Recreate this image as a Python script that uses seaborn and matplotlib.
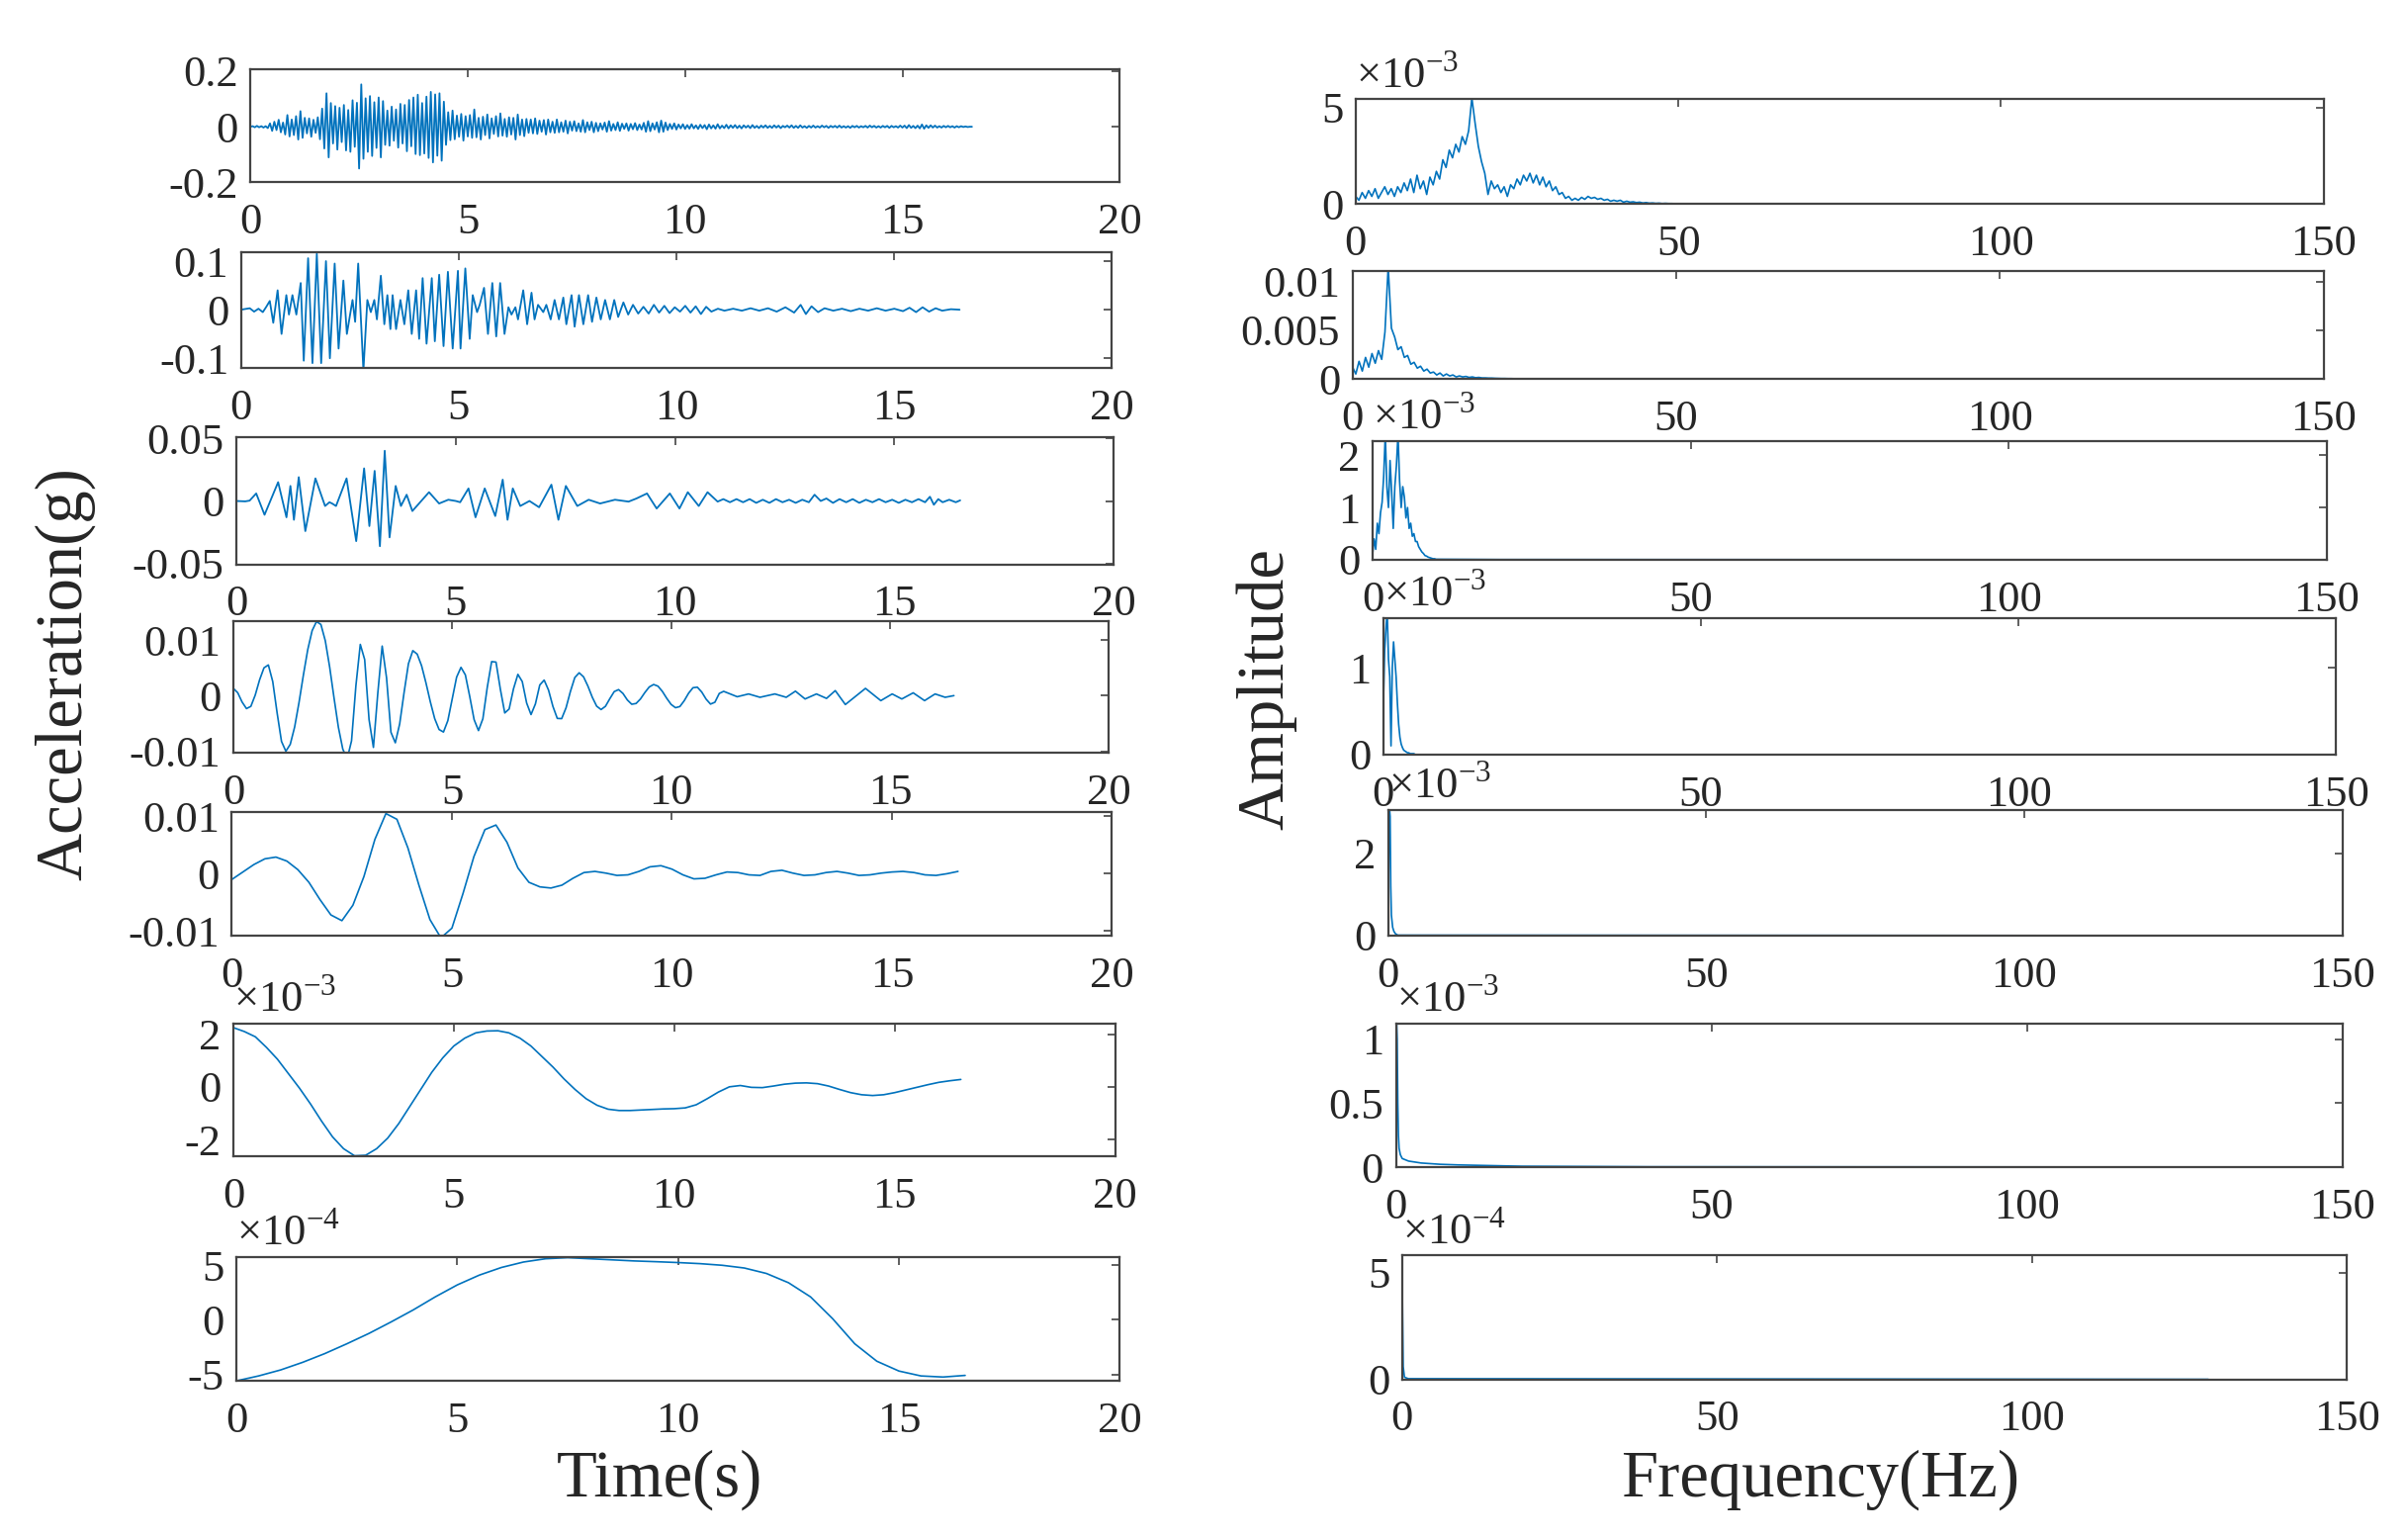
import numpy as np
import pandas as pd
import matplotlib
matplotlib.use("Agg")
import matplotlib.pyplot as plt
import seaborn as sns

# ---------------- left column: time histories ----------------
# raw record, one value every 0.05 s, in units of 0.01 g
raw_dt = 0.05
raw_acc = [
    0, 0.2, -0.2, 0.3, -0.2, 0.2, -0.3, 0.2, -0.5, 1.2, -1.5, 1.8, -1.2, 2.5, -2.0, 1.5, -2.8, 4.2, -3.5, 2.6,
    -3.0, 3.8, -4.6, 5.6, -4.0, 3.2, -2.4, 3.0, -3.6, 2.5, -2.2, 3.4, -4.5, 6.5, -7.8, 12.0, -11.0, 8.5, -6.0, 7.4,
    -8.2, 6.8, -5.5, 7.8, -8.5, 6.0, -9.0, 9.5, -7.2, 8.6, -15.0, 15.2, -11.5, 10.2, -9.0, 11.0, -10.5, 8.8, -7.6, 10.5,
    -11.0, 9.2, -6.5, 5.8, -6.8, 7.2, -5.0, 6.2, -7.5, 8.2, -6.0, 7.8, -8.8, 9.6, -7.0, 10.5, -9.8, 11.5, -10.2, 8.5,
    -9.6, 10.8, -11.2, 12.5, -12.8, 11.6, -10.4, 12.0, -12.2, 9.0, -6.5, 5.2, -4.8, 5.8, -4.5, 4.0, -3.6, 4.6, -5.0, 3.8,
    -3.5, 4.2, -4.0, 6.2, -3.8, 3.2, -4.6, 3.6, -3.0, 4.4, -4.2, 3.0, -2.6, 3.8, -3.5, 4.8, -3.2, 2.8, -3.6, 3.4,
    -2.8, 3.2, -4.6, 4.4, -3.0, 2.6, -3.4, 2.8, -2.2, 2.6, -2.4, 3.0, -2.6, 2.2, -1.8, 2.4, -2.8, 2.6, -2.0, 1.8,
    -2.2, 2.6, -2.0, 1.6, -1.8, 2.2, -2.4, 1.8, -1.4, 2.0, -1.6, 1.2, -1.8, 2.4, -2.0, 1.6, -1.2, 1.8, -2.0, 1.4,
    -1.6, 1.2, -1.0, 1.5, -1.8, 2.0, -1.4, 1.0, -1.2, 1.6, -1.5, 1.1, -0.8, 1.2, -1.4, 1.0, -0.9, 1.3, -1.2, 0.8,
    -1.0, 1.4, -1.8, 2.0, -1.6, 1.2, -1.0, 1.6, -2.0, 2.2, -1.8, 1.5, -1.2, 1.0, -0.8, 1.2, -1.0, 0.8, -0.6, 0.9,
    -0.8, 0.6, -0.7, 0.9, -0.6, 0.5, -0.8, 0.7, -0.5, 0.6, -0.9, 0.8, -0.6, 0.5, -0.7, 0.9, -0.6, 0.4, -0.5, 0.7,
    -0.6, 0.5, -0.4, 0.6, -0.5, 0.4, -0.6, 0.5, -0.3, 0.4, -0.5, 0.6, -0.4, 0.3, -0.5, 0.4, -0.3, 0.5, -0.4, 0.3,
    -0.4, 0.5, -0.3, 0.4, -0.5, 0.3, -0.2, 0.4, -0.3, 0.5, -0.4, 0.3, -0.4, 0.5, -0.3, 0.2, -0.4, 0.3, -0.3, 0.4,
    -0.3, 0.2, -0.3, 0.4, -0.2, 0.3, -0.4, 0.3, -0.2, 0.3, -0.3, 0.4, -0.3, 0.2, -0.3, 0.2, -0.4, 0.3, -0.2, 0.3,
    -0.3, 0.2, -0.2, 0.3, -0.3, 0.4, -0.2, 0.3, -0.3, 0.2, -0.3, 0.3, -0.2, 0.3, -0.4, 0.3, -0.2, 0.2, -0.3, 0.4,
    -0.3, 0.4, -0.5, 0.6, -0.4, 0.3, -0.5, 0.4, -0.6, 0.8, -0.7, 0.5, -0.4, 0.5, -0.3, 0.4, -0.3, 0.2, -0.3, 0.3,
    -0.2, 0.3, -0.2, 0.2, -0.3, 0.2, -0.2, 0.2, -0.1, 0.1, -0.1, 0.0, 0.0,
]

# component 1: peaks and troughs (time s, 0.01 g)
comp1_pts = [
    (0, 0), (0.2, 0.3), (0.3, -0.4), (0.4, 0.2), (0.5, -0.5), (0.58, 0.6), (0.66, 1.8), (0.74, -2.7),
    (0.84, 4.0), (0.93, -5.0), (1.04, 3.0), (1.10, -1.0), (1.18, 3.0), (1.27, -1.0), (1.37, 5.5),
    (1.44, -10.5), (1.54, 10.6), (1.64, -11.0), (1.74, 11.5), (1.84, -11.0), (1.95, 10.0), (2.04, -10.0),
    (2.15, 9.5), (2.24, -8.0), (2.35, 6.0), (2.43, -5.0), (2.56, 2.0), (2.62, -2.5), (2.69, 9.5),
    (2.81, -12.5), (2.90, 2.0), (2.98, -0.5), (3.06, 2.0), (3.12, -2.0), (3.21, 7.0), (3.29, -3.0),
    (3.36, 3.0), (3.43, -4.0), (3.48, 3.0), (3.56, -4.0), (3.66, 2.0), (3.75, -3.0), (3.84, 4.0),
    (3.92, -5.0), (4.02, 4.0), (4.09, -6.0), (4.17, 6.5), (4.26, -7.0), (4.38, 6.5), (4.45, -6.5),
    (4.55, 7.2), (4.65, -7.5), (4.75, 7.8), (4.86, -8.0), (4.98, 8.0), (5.04, -8.0), (5.15, 8.5),
    (5.25, -6.0), (5.32, 3.0), (5.42, -0.5), (5.48, 1.0), (5.58, 4.5), (5.67, -5.0), (5.77, 5.5),
    (5.86, -5.5), (5.95, 5.5), (6.05, -5.0), (6.14, 0.5), (6.21, -1.0), (6.30, 0.5), (6.36, -2.0),
    (6.48, 4.0), (6.57, -3.0), (6.67, 3.5), (6.74, -2.0), (6.82, 1.0), (6.94, -0.5), (7.01, 1.0),
    (7.11, -2.0), (7.20, 2.0), (7.30, -2.0), (7.40, 2.5), (7.47, -3.0), (7.59, 3.0), (7.66, -3.5),
    (7.76, 3.0), (7.86, -3.0), (7.97, 3.0), (8.06, -2.5), (8.16, 2.5), (8.26, -2.0), (8.36, 2.0),
    (8.47, -2.0), (8.57, 2.0), (8.66, -1.5), (8.78, 1.5), (8.89, -1.0), (9.00, 1.0), (9.12, -0.8),
    (9.24, 0.6), (9.36, -0.8), (9.48, 1.0), (9.60, -0.6), (9.72, 0.8), (9.84, -0.7), (9.96, 0.5),
    (10.08, -0.4), (10.2, 0.8), (10.32, -0.6), (10.44, 0.7), (10.56, -0.9), (10.68, 0.6), (10.80, -0.4),
    (10.95, 0.2), (11.1, -0.2), (11.3, 0.2), (11.5, -0.2), (11.7, 0.3), (11.9, -0.2), (12.1, 0.3),
    (12.3, -0.4), (12.5, 0.5), (12.7, -0.6), (12.85, 1.0), (12.97, -0.9), (13.1, 0.7), (13.25, -0.5),
    (13.4, 0.3), (13.6, -0.2), (13.8, 0.2), (14.0, -0.3), (14.2, 0.2), (14.4, -0.2), (14.6, 0.3),
    (14.8, -0.2), (15.0, 0.2), (15.2, -0.3), (15.35, 0.4), (15.5, -0.5), (15.65, 0.5), (15.8, -0.4),
    (15.95, 0.3), (16.1, -0.2), (16.3, 0.1), (16.5, 0.0),
]

# component 2: peaks and troughs (time s, 0.001 g)
comp2_pts = [
    (0, 0), (0.2, -0.3), (0.3, 0.3), (0.45, 6), (0.64, -11), (0.95, 15), (1.14, -13), (1.23, 12),
    (1.31, -15), (1.42, 19), (1.57, -24), (1.80, 18), (2.02, -4), (2.12, -1), (2.18, -2), (2.27, -4),
    (2.51, 18), (2.73, -32), (2.91, 26), (3.03, -20), (3.15, 24), (3.27, -36), (3.38, 40), (3.49, -29),
    (3.63, 12), (3.75, -4), (3.88, 5), (4.01, -8), (4.39, 7), (4.62, -2), (4.83, 1), (5.0, 0),
    (5.1, -1), (5.29, 10), (5.45, -13), (5.66, 10), (5.90, -12), (6.07, 17), (6.18, -15), (6.30, 10),
    (6.47, -4), (6.68, 0), (6.90, -5), (7.18, 13), (7.34, -15), (7.51, 12), (7.77, -4), (8.03, 1),
    (8.29, -2), (8.63, 1), (8.94, -0.5), (9.12, 2), (9.36, 6), (9.58, -6), (9.88, 6), (10.10, -6),
    (10.29, 7), (10.54, -4), (10.74, 7), (10.97, -0.5), (11.1, 1.5), (11.25, -1), (11.4, 1.5),
    (11.55, -1), (11.7, 1.5), (11.85, -1.5), (12.0, 1), (12.15, -1.5), (12.3, 1.5), (12.45, -1),
    (12.6, 1), (12.75, -1.5), (12.9, 1), (13.05, -1), (13.18, 5), (13.32, 0), (13.45, 2), (13.6, -1.5),
    (13.75, 1.5), (13.9, -1), (14.05, 1.5), (14.2, -1.5), (14.35, 1), (14.5, -1), (14.65, 1.5),
    (14.8, -1), (14.95, 1), (15.1, -1.5), (15.25, 1), (15.4, -1), (15.55, 1.5), (15.7, -1), (15.81, 3.4),
    (15.9, -3), (16.0, 1.5), (16.1, -1), (16.25, 1), (16.4, -1), (16.5, 0.5),
]

# component 3, one value every 0.1 s up to 11.2 s (0.001 g) ...
comp3_dt = 0.1
comp3 = [
    1.3, 0.52, -1.15, -2.33, -1.93, 0.10, 2.84, 4.99, 5.51, 2.53,
    -3.1, -8.22, -9.99, -8.75, -5.65, -1.25, 3.68, 8.26, 11.67, 13.3,
    12.78, 9.87, 5.15, -0.41, -5.70, -9.6, -11.35, -8.12, 1.80, 9.2,
    6.48, -4.29, -9.30, 0.44, 8.9, 3.19, -6.57, -8.47, -5.07, 0.54,
    5.73, 8.08, 7.45, 5.37, 2.29, -1.12, -4.14, -6.09, -6.54, -4.49,
    -0.54, 3.31, 5.08, 3.73, -0.15, -4.31, -6.28, -4.16, 1.46, 6.11,
    6.02, 1.13, -3.11, -2.40, 1.23, 3.82, 2.52, -1.33, -3.4, -1.50,
    1.91, 2.79, 0.99, -1.93, -4.09, -4.13, -2.19, 0.75, 3.25, 4.1,
    3.37, 1.70, -0.30, -1.90, -2.5, -1.92, -0.55, 0.72, 1.08, 0.39,
    -0.78, -1.55, -1.41, -0.60, 0.55, 1.55, 2.0, 1.70, 0.76, -0.48,
    -1.58, -2.17, -1.96, -0.91, 0.44, 1.42, 1.51, 0.64, -0.64, -1.52,
    -1.19, 0.39, 0.77,
]
# ... then its small ripples as peaks and troughs (time s, 0.001 g)
comp3_tail = [
    (11.51, -0.2), (11.77, 0.3), (12.03, -0.3), (12.37, 0.3), (12.63, -0.3), (12.84, 0.8),
    (13.06, -0.6), (13.32, 0.3), (13.55, -0.5), (13.75, 0.9), (13.98, -1.6), (14.44, 1.3), (14.79, -0.9),
    (15.05, 0.3), (15.27, -0.6), (15.53, 0.5), (15.79, -0.9), (16.03, 0.3), (16.26, -0.3), (16.46, 0.0),
]

# component 4, one value every 0.25 s (0.001 g)
comp4_dt = 0.25
comp4 = [
    -1.0, 0.3, 1.6, 2.6, 2.9, 2.2, 0.7, -1.5, -4.5, -7.2, -8.2, -5.5, -0.5, 6.0, 10.5, 9.5,
    4.5, -2.0, -8.0, -11.2, -9.5, -3.5, 3.0, 7.7, 8.5, 5.5, 1.0, -1.5, -2.3, -2.5, -2.0, -0.8,
    0.2, 0.4, 0.1, -0.3, -0.2, 0.4, 1.2, 1.4, 0.8, -0.2, -0.9, -0.8, -0.2, 0.3, 0.2, -0.2,
    -0.3, 0.4, 0.6, 0.1, -0.3, -0.2, 0.2, 0.4, 0.1, -0.3, -0.2, 0.1, 0.3, 0.4, 0.2, -0.2,
    -0.3, 0.0, 0.4,
]

# component 5, one value every 0.25 s (1e-3 g)
comp5_dt = 0.25
comp5 = [
    2.25, 2.1, 1.9, 1.5, 1.05, 0.5, -0.05, -0.65, -1.3, -1.9, -2.35, -2.62, -2.6, -2.35, -1.95, -1.4,
    -0.75, -0.1, 0.55, 1.1, 1.55, 1.85, 2.05, 2.12, 2.13, 2.05, 1.85, 1.55, 1.15, 0.75, 0.3, -0.1,
    -0.45, -0.7, -0.85, -0.9, -0.9, -0.88, -0.86, -0.84, -0.83, -0.8, -0.68, -0.45, -0.2, 0.0, 0.05, -0.02,
    -0.03, 0.03, 0.1, 0.14, 0.15, 0.12, 0.03, -0.1, -0.22, -0.3, -0.33, -0.3, -0.22, -0.12, -0.02, 0.08,
    0.17, 0.23, 0.28,
]

# trend, one value every 0.5 s (1e-4 g)
trend_dt = 0.5
trend = [
    -5.6, -5.15, -4.6, -3.9, -3.1, -2.2, -1.25, -0.2, 0.9, 2.1, 3.2, 4.1, 4.8, 5.3, 5.6, 5.7,
    5.6, 5.5, 5.4, 5.33, 5.25, 5.15, 5.0, 4.75, 4.25, 3.4, 2.1, 0.1, -2.2, -3.8, -4.7, -5.15,
    -5.25, -5.1,
]

# ---------------- right column: amplitude spectra ----------------
# raw record spectrum, every 0.5 Hz (1e-3)
spec_raw_df = 0.5
spec_raw = [
    0.4, 0.2, 0.6, 0.3, 0.7, 0.4, 0.8, 0.3, 0.6, 0.9, 0.5, 0.8, 0.4, 0.9, 0.6, 1.1, 0.7, 1.3, 0.6, 1.5,
    0.8, 1.2, 0.5, 1.4, 1.0, 1.7, 1.3, 2.3, 1.9, 2.8, 2.4, 3.1, 2.7, 3.5, 3.1, 3.8, 5.5, 4.2, 3.0, 2.2,
    1.6, 0.5, 1.2, 0.8, 1.0, 0.6, 0.9, 0.4, 1.0, 0.8, 1.3, 1.0, 1.5, 1.2, 1.6, 1.1, 1.5, 1.0, 1.4, 0.9,
    1.2, 0.7, 0.9, 0.5, 0.6, 0.3, 0.4, 0.2, 0.3, 0.2, 0.35, 0.25, 0.4, 0.3, 0.35, 0.25, 0.3, 0.2, 0.25, 0.15,
    0.2, 0.15, 0.2, 0.1, 0.15, 0.1, 0.12, 0.08, 0.1, 0.06, 0.08, 0.05, 0.06, 0.04, 0.05, 0.03, 0.04, 0.03, 0.03, 0.02,
    0.02,
]
spec_raw_tail = [(60, 0.02), (80, 0.01), (128, 0.01)]

# component 1 spectrum, every 0.5 Hz (1e-3)
spec1_df = 0.5
spec1 = [
    1.2, 0.5, 1.8, 0.8, 2.2, 1.2, 2.6, 1.6, 2.9, 2.0, 4.8, 11.5, 5.2, 4.3, 3.0, 3.3, 2.2, 2.4, 1.5, 1.7,
    1.1, 1.3, 0.8, 1.0, 0.6, 0.7, 0.4, 0.6, 0.3, 0.5, 0.3, 0.4, 0.2, 0.3, 0.2, 0.25, 0.15, 0.2, 0.12, 0.15,
    0.1, 0.1, 0.08, 0.08, 0.06, 0.05, 0.04, 0.04, 0.03, 0.03, 0.02,
]
spec1_tail = [(40, 0.01), (128, 0.005)]

# component 2 spectrum, every 0.25 Hz (1e-3)
spec2_df = 0.25
spec2 = [
    0.1, 0.4, 0.2, 0.7, 0.5, 0.9, 1.1, 1.6, 2.4, 1.4, 1.0, 1.9, 1.3, 0.6, 1.4, 1.8, 2.4, 1.5, 1.0, 1.4,
    1.2, 0.8, 1.0, 0.6, 0.7, 0.45, 0.5, 0.35, 0.35, 0.25, 0.2, 0.15, 0.12, 0.08, 0.07, 0.05, 0.04, 0.03, 0.02, 0.02,
    0.01,
]
spec2_tail = [(20, 0.005), (128, 0.002)]

# component 3 spectrum, every 0.2 Hz (1e-3)
spec3_df = 0.2
spec3 = [
    0.6, 1.2, 1.45, 1.65, 1.1, 0.9, 0.1, 1.0, 1.3, 1.1, 0.9, 0.6, 0.35, 0.2, 0.12, 0.08, 0.05, 0.04, 0.03, 0.02,
    0.02, 0.01, 0.01, 0.01, 0.01, 0.0,
]
spec3_tail = [(128, 0.0)]

# component 4 spectrum, every 0.1 Hz (1e-3)
spec4_df = 0.1
spec4 = [0.4, 2.2, 3.1, 2.9, 1.2, 0.5, 0.35, 0.2, 0.15, 0.1, 0.08, 0.05, 0.04, 0.03, 0.02, 0.01]
spec4_tail = [(128, 0.0)]

# component 5 spectrum (Hz, 1e-3)
spec5_pts = [
    (0, 0.6), (0.1, 1.15), (0.2, 1.0), (0.3, 0.5), (0.4, 0.25), (0.5, 0.15), (0.7, 0.1), (1.0, 0.07),
    (2.0, 0.05), (4.0, 0.035), (7.0, 0.025), (10, 0.02), (20, 0.01), (40, 0.006), (128, 0.004),
]

# trend spectrum (Hz, 1e-4)
spec_trend_pts = [(0, 6.0), (0.1, 3.0), (0.2, 0.6), (0.4, 0.1), (1.0, 0.03), (128, 0.0)]


def uniform(values, step, scale):
    x = np.arange(len(values)) * step
    return pd.DataFrame({"x": x, "y": np.array(values) * scale})


def from_pairs(pts, scale):
    arr = np.array(pts, dtype=float)
    return pd.DataFrame({"x": arr[:, 0], "y": arr[:, 1] * scale})


def with_tail(values, step, tail, scale):
    a = uniform(values, step, scale)
    b = from_pairs(tail, scale)
    return pd.concat([a, b], ignore_index=True)


left_data = [
    uniform(raw_acc, raw_dt, 0.01),
    from_pairs(comp1_pts, 0.01),
    from_pairs(comp2_pts, 0.001),
    with_tail(comp3, comp3_dt, comp3_tail, 0.001),
    uniform(comp4, comp4_dt, 0.001),
    uniform(comp5, comp5_dt, 1e-3),
    uniform(trend, trend_dt, 1e-4),
]
right_data = [
    with_tail(spec_raw, spec_raw_df, spec_raw_tail, 1e-3),
    with_tail(spec1, spec1_df, spec1_tail, 1e-3),
    with_tail(spec2, spec2_df, spec2_tail, 1e-3),
    with_tail(spec3, spec3_df, spec3_tail, 1e-3),
    with_tail(spec4, spec4_df, spec4_tail, 1e-3),
    from_pairs(spec5_pts, 1e-3),
    from_pairs(spec_trend_pts, 1e-4),
]

# axis settings: ylim, yticks, tick labels, exponent label
left_axes = [
    ((-0.2, 0.205), [-0.2, 0, 0.2], ["-0.2", "0", "0.2"], None),
    ((-0.12, 0.119), [-0.1, 0, 0.1], ["-0.1", "0", "0.1"], None),
    ((-0.0505, 0.0505), [-0.05, 0, 0.05], ["-0.05", "0", "0.05"], None),
    ((-0.0103, 0.0133), [-0.01, 0, 0.01], ["-0.01", "0", "0.01"], None),
    ((-0.0108, 0.0108), [-0.01, 0, 0.01], ["-0.01", "0", "0.01"], None),
    ((-2.65e-3, 2.4e-3), [-2e-3, 0, 2e-3], ["-2", "0", "2"], "-3"),
    ((-5.6e-4, 5.75e-4), [-5e-4, 0, 5e-4], ["-5", "0", "5"], "-4"),
]
right_axes = [
    ((0, 5.45e-3), [0, 5e-3], ["0", "5"], "-3"),
    ((0, 0.0111), [0, 0.005, 0.01], ["0", "0.005", "0.01"], None),
    ((0, 2.28e-3), [0, 1e-3, 2e-3], ["0", "1", "2"], "-3"),
    ((0, 1.57e-3), [0, 1e-3], ["0", "1"], "-3"),
    ((0, 3.05e-3), [0, 2e-3], ["0", "2"], "-3"),
    ((0, 1.12e-3), [0, 0.5e-3, 1e-3], ["0", "0.5", "1"], "-3"),
    ((0, 5.8e-4), [0, 5e-4], ["0", "5"], "-4"),
]

left_boxes = [
    [0.1040, 0.8813, 0.3610, 0.0734],
    [0.1001, 0.7606, 0.3617, 0.0755],
    [0.0982, 0.6328, 0.3643, 0.0825],
    [0.0969, 0.5101, 0.3636, 0.0855],
    [0.0963, 0.3913, 0.3655, 0.0805],
    [0.0969, 0.2475, 0.3662, 0.0865],
    [0.0982, 0.1016, 0.3668, 0.0805],
]
right_boxes = [
    [0.5630, 0.8672, 0.4020, 0.0684],
    [0.5617, 0.7535, 0.4033, 0.0704],
    [0.5700, 0.6358, 0.3962, 0.0775],
    [0.5745, 0.5091, 0.3956, 0.0885],
    [0.5765, 0.3913, 0.3962, 0.0815],
    [0.5797, 0.2404, 0.3930, 0.0936],
    [0.5822, 0.1026, 0.3924, 0.0805],
]

sns.set_style("white")
plt.rcParams["font.family"] = ["Liberation Serif", "DejaVu Serif"]
plt.rcParams["mathtext.fontset"] = "custom"
plt.rcParams["mathtext.rm"] = "Liberation Serif"
plt.rcParams["axes.unicode_minus"] = False

blue = "#0072BD"
tick_size = 32

fig = plt.figure(figsize=(24.35, 15.54), dpi=100)


def panel(box, df, xlim, xticks, settings, lw):
    ax = fig.add_axes(box)
    sns.lineplot(data=df, x="x", y="y", ax=ax, color=blue, linewidth=lw,
                 estimator=None, sort=False)
    ylim, yticks, ylabels, expo = settings
    ax.set_xlim(xlim)
    ax.set_ylim(ylim)
    ax.set_xticks(xticks)
    ax.set_xticklabels([str(t) for t in xticks])
    ax.set_yticks(yticks)
    ax.set_yticklabels(ylabels)
    ax.set_xlabel("")
    ax.set_ylabel("")
    ax.tick_params(direction="in", top=True, right=True, length=6, width=1.2,
                   color="#444444", labelsize=tick_size)
    ax.tick_params(axis="x", pad=15)
    ax.tick_params(axis="y", pad=9)
    for s in ax.spines.values():
        s.set_color("#444444")
        s.set_linewidth(1.6)
    if expo is not None:
        ax.text(0.0, 1.02, "×10$^{" + expo + "}$", transform=ax.transAxes,
                fontsize=tick_size, ha="left", va="bottom")
    return ax


for i in range(7):
    lw = 1.3 if i < 3 else 1.2
    panel(left_boxes[i], left_data[i], (0, 20), [0, 5, 10, 15, 20], left_axes[i], lw)
    panel(right_boxes[i], right_data[i], (0, 150), [0, 50, 100, 150], right_axes[i], 1.2)

fig.text(0.027, 0.562, "Acceleration(g)", rotation=90, ha="center", va="center", fontsize=48)
fig.text(0.526, 0.552, "Amplitude", rotation=90, ha="center", va="center", fontsize=48)
fig.text(0.274, 0.037, "Time(s)", ha="center", va="center", fontsize=48)
fig.text(0.756, 0.037, "Frequency(Hz)", ha="center", va="center", fontsize=48)

fig.savefig("out.png", dpi=100, facecolor="white")
